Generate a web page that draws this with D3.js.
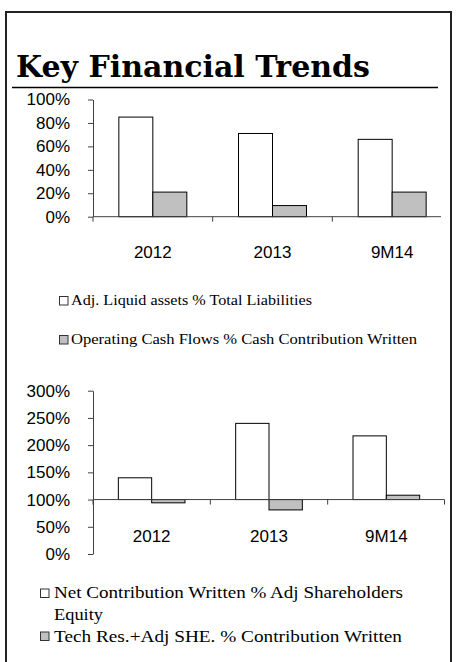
<!DOCTYPE html>
<html>
<head>
<meta charset="utf-8">
<script src="https://cdn.jsdelivr.net/npm/d3@7"></script>
<style>
  body { margin: 0; background: #fff; }
  svg { display: block; }
</style>
</head>
<body>
<div id="chart"></div>
<script>
// data
var categories = ['2012', '2013', '9M14'];
var liquidAssets = [85, 71, 66];      // Adj. Liquid assets % Total Liabilities
var opCashFlows = [21, 9.5, 21];      // Operating Cash Flows % Cash Contribution Written
var netContribution = [140, 240, 217]; // Net Contribution Written % Adj Shareholders Equity
var techRes = [94, 81, 108];          // Tech Res.+Adj SHE. % Contribution Written
var ticks1 = [0, 20, 40, 60, 80, 100];
var ticks2 = [0, 50, 100, 150, 200, 250, 300];
var legend1 = ['Adj. Liquid assets % Total Liabilities', 'Operating Cash Flows % Cash Contribution Written'];
var legend2 = ['Net Contribution Written % Adj Shareholders', 'Equity', 'Tech Res.+Adj SHE. % Contribution Written'];

var W = 456, H = 662;
var axisColor = '#404040';
var grayFill = '#c0c0c0';

var svg = d3.select('#chart').append('svg')
    .attr('width', W)
    .attr('height', H);

// frame
svg.append('rect')
    .attr('x', 6).attr('y', 12)
    .attr('width', 445).attr('height', 660)
    .attr('fill', 'none')
    .attr('stroke', '#222')
    .attr('stroke-width', 2);

// title
svg.append('text')
    .attr('x', 16).attr('y', 77)
    .attr('font-family', '"DejaVu Serif", serif')
    .attr('font-weight', 'bold')
    .attr('font-size', '30px')
    .attr('textLength', 354)
    .attr('lengthAdjust', 'spacingAndGlyphs')
    .text('Key Financial Trends');

svg.append('line')
    .attr('x1', 12).attr('x2', 438)
    .attr('y1', 87.5).attr('y2', 87.5)
    .attr('stroke', '#000')
    .attr('stroke-width', 1.5);

function drawChart(opt) {
  var x = d3.scaleBand().domain(categories).range(opt.xRange).padding(0);
  var bw = x.bandwidth();
  var xs = d3.scaleBand().domain([0, 1]).range([0.216 * bw, 0.784 * bw]).padding(0);
  var y = d3.scaleLinear().domain(opt.yDomain).range(opt.yRange);
  var g = svg.append('g');

  // y axis
  var yAxis = g.append('g')
      .attr('transform', 'translate(' + opt.xRange[0] + ',0)')
      .call(d3.axisLeft(y).tickValues(opt.ticks).tickSize(5).tickSizeOuter(0)
        .tickFormat(function(d) { return d + '%'; }));
  yAxis.select('.domain').attr('stroke', axisColor);
  yAxis.selectAll('.tick line').attr('stroke', axisColor);
  yAxis.selectAll('.tick text')
      .attr('x', opt.labelX - opt.xRange[0])
      .attr('font-family', '"Liberation Sans", Arial, sans-serif')
      .attr('font-size', '17px')
      .attr('fill', '#000');

  // bars
  var series = [opt.s0, opt.s1];
  series.forEach(function(vals, si) {
    g.selectAll('.bar' + si)
        .data(vals)
        .enter().append('rect')
        .attr('x', function(d, i) { return x(categories[i]) + xs(si); })
        .attr('width', xs.bandwidth())
        .attr('y', function(d) { return y(Math.max(d, opt.base)); })
        .attr('height', function(d) { return Math.abs(y(d) - y(opt.base)); })
        .attr('fill', si === 0 ? '#fff' : grayFill)
        .attr('stroke', '#000')
        .attr('stroke-width', 1);
  });

  // x axis line at base value
  var yb = y(opt.base);
  g.append('line')
      .attr('x1', opt.xRange[0]).attr('x2', opt.axisEnd)
      .attr('y1', yb).attr('y2', yb)
      .attr('stroke', axisColor);
  var tickXs = categories.map(function(c) { return x(c); });
  if (opt.endTick) tickXs.push(opt.axisEnd);
  g.selectAll('.xtick')
      .data(tickXs)
      .enter().append('line')
      .attr('x1', function(d) { return d; })
      .attr('x2', function(d) { return d; })
      .attr('y1', yb).attr('y2', yb + 5)
      .attr('stroke', axisColor);

  g.selectAll('.xlabel')
      .data(categories)
      .enter().append('text')
      .attr('x', function(d) { return x(d) + bw / 2; })
      .attr('y', opt.catLabelY)
      .attr('text-anchor', 'middle')
      .attr('font-family', '"Liberation Sans", Arial, sans-serif')
      .attr('font-size', '17px')
      .text(function(d) { return d; });
}

drawChart({
  xRange: [93, 452], axisEnd: 441, endTick: false,
  yDomain: [0, 100], yRange: [216.7, 99.5], ticks: ticks1,
  base: 0, s0: liquidAssets, s1: opCashFlows,
  labelX: 70, catLabelY: 258
});

drawChart({
  xRange: [93, 445], axisEnd: 444.5, endTick: true,
  yDomain: [0, 300], yRange: [554, 390.7], ticks: ticks2,
  base: 100, s0: netContribution, s1: techRes,
  labelX: 70, catLabelY: 541.5
});

// legends
function legendItem(bx, by, bs, fill, tx, ty, txt, fs, len) {
  if (fill) {
    svg.append('rect')
        .attr('x', bx).attr('y', by)
        .attr('width', bs).attr('height', bs)
        .attr('fill', fill)
        .attr('stroke', '#333')
        .attr('stroke-width', 1);
  }
  svg.append('text')
      .attr('x', tx).attr('y', ty)
      .attr('font-family', '"Liberation Serif", "Times New Roman", serif')
      .attr('font-size', fs + 'px')
      .attr('textLength', len)
      .attr('lengthAdjust', 'spacingAndGlyphs')
      .text(txt);
}

legendItem(59.5, 296.5, 8.5, '#fff', 71, 305, legend1[0], 14, 241);
legendItem(59.5, 335.5, 8.5, grayFill, 71, 344, legend1[1], 14, 346);

legendItem(40.5, 589, 8.5, '#fff', 54, 598, legend2[0], 16.5, 349);
legendItem(0, 0, 0, null, 54, 620, legend2[1], 16.5, 49);
legendItem(40.5, 632, 8.5, grayFill, 54, 642, legend2[2], 16.5, 348);
</script>
</body>
</html>
